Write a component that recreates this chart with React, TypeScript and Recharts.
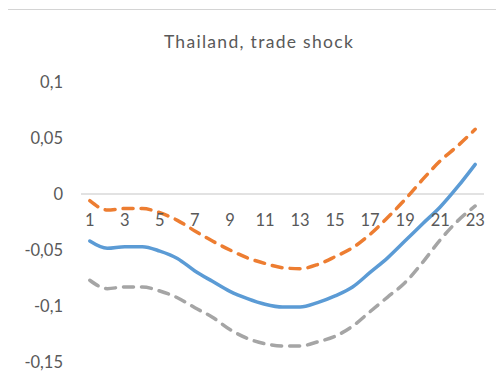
import React from 'react';
import { LineChart, Line, XAxis, YAxis, ReferenceLine } from 'recharts';

const categories = ['1','2','3','4','5','6','7','8','9','10','11','12','13','14','15','16','17','18','19','20','21','22','23'];
const central = [-0.042, -0.0485, -0.047, -0.047, -0.051, -0.0575, -0.0687, -0.078, -0.087, -0.0935, -0.0985, -0.101, -0.101, -0.097, -0.091, -0.083, -0.070, -0.057, -0.0418, -0.0265, -0.0116, 0.0065, 0.0265];
const upper = [-0.006, -0.0143, -0.013, -0.013, -0.0167, -0.0235, -0.033, -0.042, -0.050, -0.057, -0.062, -0.0658, -0.0667, -0.063, -0.056, -0.048, -0.036, -0.021, -0.0048, 0.013, 0.0295, 0.043, 0.0578];
const lower = [-0.077, -0.0845, -0.083, -0.083, -0.0866, -0.0926, -0.1015, -0.110, -0.121, -0.129, -0.1337, -0.1357, -0.1357, -0.132, -0.127, -0.118, -0.105, -0.092, -0.079, -0.061, -0.041, -0.024, -0.0107];
const yTicks = [-0.15, -0.1, -0.05, 0, 0.05, 0.1];
const title = 'Thailand, trade shock';

const data = categories.map((c, i) => ({ cat: c, central: central[i], upper: upper[i], lower: lower[i] }));

const W = 496;
const H = 372;
const M = { top: 72, right: 20, bottom: 10, left: 0 };
const X_AXIS_H = 10;
const Y_MIN = -0.15;
const Y_MAX = 0.1;
const PLOT_H = H - M.top - M.bottom - X_AXIS_H;
const ZERO_Y = M.top + PLOT_H * (Y_MAX / (Y_MAX - Y_MIN));

const FONT = 'Lato, "Open Sans", sans-serif';
const TEXT = '#595959';

const fmt = (v: number) => (v === 0 ? '0' : String(v).replace('.', ','));

const XTick = (props: any) => {
  const { x, payload } = props;
  return (
    <text x={x} y={ZERO_Y + 32} textAnchor="middle" fill={TEXT} fontSize={16.5} fontFamily={FONT}>
      {payload.value}
    </text>
  );
};

export default function App() {
  return (
    <div
      style={{
        position: 'relative',
        left: -1,
        top: 1,
        width: W + 1,
        height: H + 1,
        borderTop: '1px solid #d4d4d4',
        borderLeft: '1px solid #d4d4d4',
        boxSizing: 'border-box',
        background: '#fff',
      }}
    >
      <div
        style={{
          position: 'absolute',
          left: 0,
          width: 502,
          top: 21,
          textAlign: 'center',
          fontFamily: FONT,
          fontSize: 17.5,
          letterSpacing: 1.3,
          color: TEXT,
        }}
      >
        {title}
      </div>
      <LineChart width={W} height={H} data={data} margin={M}>
        <XAxis
          dataKey="cat"
          scale="band"
          axisLine={false}
          tickLine={false}
          height={X_AXIS_H}
          interval={1}
          tick={<XTick />}
        />
        <YAxis
          domain={[Y_MIN, Y_MAX]}
          ticks={yTicks}
          width={73}
          axisLine={false}
          tickLine={false}
          tickSize={0}
          tickMargin={18}
          tickFormatter={fmt}
          tick={{ fill: TEXT, fontSize: 16.5, fontFamily: FONT }}
          allowDataOverflow
        />
        <ReferenceLine y={0} stroke="#d9d9d9" strokeWidth={1.5} />
        <Line type="monotone" dataKey="upper" stroke="#ED7D31" strokeWidth={3.5} strokeDasharray="10 8" strokeLinecap="round" dot={false} isAnimationActive={false} />
        <Line type="monotone" dataKey="lower" stroke="#A5A5A5" strokeWidth={3.5} strokeDasharray="10 8" strokeLinecap="round" dot={false} isAnimationActive={false} />
        <Line type="monotone" dataKey="central" stroke="#5B9BD5" strokeWidth={3.5} strokeLinecap="round" dot={false} isAnimationActive={false} />
      </LineChart>
    </div>
  );
}
